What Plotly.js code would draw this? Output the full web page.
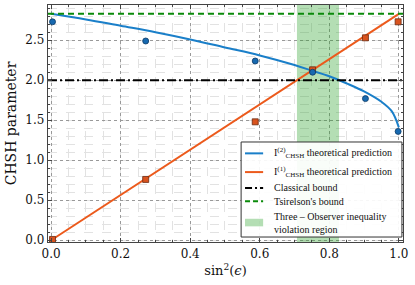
<!DOCTYPE html>
<html>
<head>
<meta charset="utf-8">
<script src="https://cdn.plot.ly/plotly-3.0.1.min.js"></script>
<style>html,body{margin:0;padding:0;background:#fff;}#chart{width:415px;height:285px;}</style>
</head>
<body>
<div id="chart"></div>
<script>
const expX = [0.004, 0.272, 0.587, 0.752, 0.904, 0.998];
const expI2 = [2.73, 2.49, 2.24, 2.10, 1.77, 1.36];
const expI1 = [0.01, 0.76, 1.48, 2.13, 2.53, 2.73];

// Theoretical curves
const theoX2 = [0, 0.1, 0.2, 0.3, 0.4, 0.5, 0.6, 0.7, 0.75, 0.8, 0.85, 0.9, 0.95, 0.98, 1.0];
const theoI2 = [2.83, 2.76, 2.68, 2.60, 2.51, 2.41, 2.31, 2.19, 2.12, 2.05, 1.96, 1.86, 1.73, 1.61, 1.41];
const theoX1 = [0, 1.0];
const theoI1 = [0, 2.83];

// Bounds
const classicalBound = 2.0;
const tsirelsonBound = 2.83;
const regionX = [0.707, 0.828];

// Legend labels
const legendLabels = [
  'I<sup>(2)</sup><sub>CHSH</sub> theoretical prediction',
  'I<sup>(1)</sup><sub>CHSH</sub> theoretical prediction',
  'Classical bound',
  "Tsirelson's bound",
  'Three \u2013 Observer inequality<br>violation region'
];

const xRange = [-0.009, 1.012];
const yRange = [-0.022, 2.94];

const serif = "DejaVu Serif";
const legFont = "Liberation Serif";

const cBlue = '#1a7fc9', cOrange = '#ec5a1c', cGreen = '#0a8a0a', cFill = 'rgba(40,160,40,0.35)';
const dashDot = '9px,3px,2px,3px', dashG = '6px,4px';

const traces = [
  {x: [regionX[0], regionX[1], regionX[1], regionX[0], regionX[0]],
   y: [yRange[0], yRange[0], yRange[1], yRange[1], yRange[0]],
   mode: 'lines', fill: 'toself', fillcolor: cFill, line: {width: 0},
   name: legendLabels[4], hoverinfo: 'skip'},
  {x: theoX2, y: theoI2, mode: 'lines', line: {color: cBlue, width: 2, shape: 'spline'}, name: legendLabels[0]},
  {x: theoX1, y: theoI1, mode: 'lines', line: {color: cOrange, width: 2}, name: legendLabels[1]},
  {x: xRange, y: [classicalBound, classicalBound], mode: 'lines',
   line: {color: '#000', width: 2, dash: dashDot}, name: legendLabels[2]},
  {x: xRange, y: [tsirelsonBound, tsirelsonBound], mode: 'lines',
   line: {color: cGreen, width: 2, dash: dashG}, name: legendLabels[3]},
  {x: expX, y: expI1, mode: 'markers',
   marker: {symbol: 'square', size: 6, color: '#d9531e', line: {color: '#6b2a10', width: 0.8}}},
  {x: expX, y: expI2, mode: 'markers',
   marker: {symbol: 'circle', size: 6, color: '#1769b0', line: {color: '#0b3a66', width: 0.8}}}
];

const axisCommon = {
  showline: true, mirror: 'ticks', linecolor: '#444', linewidth: 1.2,
  ticks: 'inside', ticklen: 4, tickcolor: '#444',
  showgrid: true, gridcolor: '#999', griddash: 'dot', gridwidth: 1,
  zeroline: false,
  tickfont: {family: serif, size: 12, color: '#111'},
  minor: {ticks: 'inside', ticklen: 2, tickcolor: '#444', showgrid: true, gridcolor: '#e2e2e2', griddash: 'dash', gridwidth: 1}
};

// Hand-built legend box (paper coordinates of the plot area)
const lg = {x0: 0.544, x1: 0.997, y0: 0.021, y1: 0.422, sx0: 0.555, sx1: 0.606, tx: 0.631,
            rows: [0.374, 0.295, 0.228, 0.172, 0.082]};
const shapes = [
  {type: 'rect', xref: 'paper', yref: 'paper', x0: lg.x0, x1: lg.x1, y0: lg.y0, y1: lg.y1,
   fillcolor: 'rgba(255,255,255,0.92)', line: {color: '#333', width: 1}},
  {type: 'line', xref: 'paper', yref: 'paper', x0: lg.sx0, x1: lg.sx1, y0: lg.rows[0], y1: lg.rows[0], line: {color: cBlue, width: 2}},
  {type: 'line', xref: 'paper', yref: 'paper', x0: lg.sx0, x1: lg.sx1, y0: lg.rows[1], y1: lg.rows[1], line: {color: cOrange, width: 2}},
  {type: 'line', xref: 'paper', yref: 'paper', x0: lg.sx0, x1: lg.sx1, y0: lg.rows[2], y1: lg.rows[2], line: {color: '#000', width: 2, dash: '7px,3px,2px,3px'}},
  {type: 'line', xref: 'paper', yref: 'paper', x0: lg.sx0, x1: lg.sx1, y0: lg.rows[3], y1: lg.rows[3], line: {color: cGreen, width: 2, dash: '5px,3px'}},
  {type: 'rect', xref: 'paper', yref: 'paper', x0: lg.sx0, x1: lg.sx1, y0: lg.rows[4] - 0.016, y1: lg.rows[4] + 0.016, fillcolor: cFill, line: {width: 0}}
];
const annotations = legendLabels.map((t, i) => ({
  xref: 'paper', yref: 'paper', x: lg.tx, y: lg.rows[i], xanchor: 'left', yanchor: 'middle',
  text: t, showarrow: false, align: 'left', font: {family: legFont, size: 10, color: '#111'}
}));

const layout = {
  width: 415, height: 285,
  margin: {l: 48, r: 12, t: 5, b: 43},
  paper_bgcolor: '#fff', plot_bgcolor: '#fff',
  showlegend: false,
  xaxis: Object.assign({}, axisCommon, {
    range: xRange, tickvals: [0, 0.2, 0.4, 0.6, 0.8, 1.0], ticktext: ['0.0','0.2','0.4','0.6','0.8','1.0'],
    minor: Object.assign({}, axisCommon.minor, {dtick: 0.05, tick0: 0}),
    title: {text: 'sin<sup>2</sup>(<i>ϵ</i>)', font: {family: serif, size: 13, color: '#111'}, standoff: 6}
  }),
  yaxis: Object.assign({}, axisCommon, {
    range: yRange, tickvals: [0, 0.5, 1.0, 1.5, 2.0, 2.5], ticktext: ['0.0','0.5','1.0','1.5','2.0','2.5'],
    minor: Object.assign({}, axisCommon.minor, {dtick: 0.1, tick0: 0}),
    title: {text: 'CHSH parameter', font: {family: serif, size: 14, color: '#111'}, standoff: 5}
  }),
  shapes: shapes,
  annotations: annotations
};

Plotly.newPlot('chart', traces, layout, {displayModeBar: false, staticPlot: true});
</script>
</body>
</html>
